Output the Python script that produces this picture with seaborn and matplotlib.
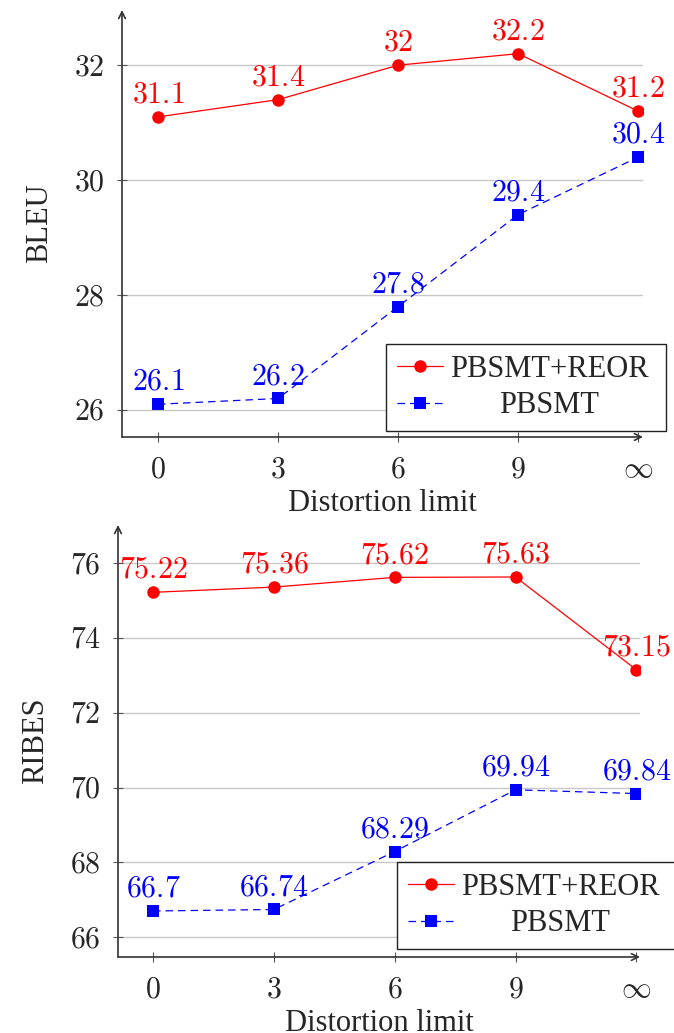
import matplotlib
matplotlib.use("Agg")
import matplotlib.pyplot as plt
import seaborn as sns
import pandas as pd

# ---- data ----
limits = ["0", "3", "6", "9", r"\infty"]
bleu_reor = [31.1, 31.4, 32.0, 32.2, 31.2]
bleu_base = [26.1, 26.2, 27.8, 29.4, 30.4]
ribes_reor = [75.22, 75.36, 75.62, 75.63, 73.15]
ribes_base = [66.7, 66.74, 68.29, 69.94, 69.84]
bleu_labels_reor = ["31.1", "31.4", "32", "32.2", "31.2"]
bleu_labels_base = ["26.1", "26.2", "27.8", "29.4", "30.4"]
ribes_labels_reor = ["75.22", "75.36", "75.62", "75.63", "73.15"]
ribes_labels_base = ["66.7", "66.74", "68.29", "69.94", "69.84"]
series_names = ["PBSMT+REOR", "PBSMT"]
bleu_ticks = [26, 28, 30, 32]
ribes_ticks = [66, 68, 70, 72, 74, 76]

sns.set_theme(style="white")
plt.rcParams['font.family'] = ['Liberation Serif', 'DejaVu Serif']
plt.rcParams['mathtext.fontset'] = 'cm'

W, H = 674, 1033
fig = plt.figure(figsize=(W / 100, H / 100), dpi=100)
FS = 22
NFS = 21.5


def px_axes(l, t, r, b):
    return fig.add_axes([l / W, 1 - b / H, (r - l) / W, (b - t) / H])


def panel(ax, reor, base, lab_r, lab_b, ticks, ylim, xlim, ylabel, legend_box):
    pos = list(range(len(limits)))
    df = pd.DataFrame({"pos": pos, "reor": reor, "base": base})
    sns.lineplot(data=df, x="pos", y="reor", ax=ax, color="#ff0000", marker="o",
                 markersize=9, markeredgewidth=0, linewidth=0.9, label=series_names[0])
    sns.lineplot(data=df, x="pos", y="base", ax=ax, color="#0000ff", marker="s",
                 markersize=8.5, markeredgewidth=0, linewidth=0.9, linestyle=(0, (6, 4)),
                 label=series_names[1])
    for p, v, t in zip(pos, reor, lab_r):
        ax.annotate("$" + t + "$", (p, v), xytext=(0, 6), textcoords="offset points",
                    ha="center", va="bottom", color="#ff0000", fontsize=NFS)
    for p, v, t in zip(pos, base, lab_b):
        ax.annotate("$" + t + "$", (p, v), xytext=(0, 6), textcoords="offset points",
                    ha="center", va="bottom", color="#0000ff", fontsize=NFS)
    ax.set_xlim(*xlim)
    ax.set_ylim(*ylim)
    ax.set_xticks(pos)
    ax.set_xticklabels(["$" + s + "$" for s in limits], fontsize=NFS)
    ax.set_yticks(ticks)
    ax.set_yticklabels(["$" + str(t) + "$" for t in ticks], fontsize=NFS)
    ax.set_xlabel("Distortion limit", fontsize=FS, labelpad=4)
    ax.set_ylabel(ylabel, fontsize=FS, labelpad=14)
    for s in ax.spines.values():
        s.set_visible(False)
    ax.set_facecolor("none")
    ax.grid(axis="y", color="#c8c8c8", linewidth=1.0)
    ax.grid(axis="x", visible=False)
    ax.set_axisbelow(True)
    ax.tick_params(axis="x", direction="inout", length=7, width=0.8, color="#555555",
                   pad=11, bottom=True)
    ax.tick_params(axis="y", direction="inout", length=7, width=0.8, color="#555555",
                   pad=9, left=True)
    ax.annotate("", xy=(1, 0), xytext=(0, 0), xycoords="axes fraction",
                arrowprops=dict(arrowstyle="->", color="#333333", lw=1.2, shrinkA=0, shrinkB=0))
    ax.annotate("", xy=(0, 1), xytext=(0, 0), xycoords="axes fraction",
                arrowprops=dict(arrowstyle="->", color="#333333", lw=1.2, shrinkA=0, shrinkB=0))
    l, t, r, b = legend_box
    leg = ax.legend(loc="upper left",
                    bbox_to_anchor=(l / W, 1 - b / H, (r - l) / W, (b - t) / H),
                    bbox_transform=fig.transFigure, mode="expand",
                    fontsize=FS, frameon=True, fancybox=False, edgecolor="#222222",
                    handlelength=1.5, handletextpad=0.25, borderpad=0.35,
                    labelspacing=0.25, borderaxespad=0)
    leg.get_frame().set_linewidth(1.0)
    leg.get_frame().set_alpha(1)
    return leg


ax1 = px_axes(122, 10, 643, 437)
leg1 = panel(ax1, bleu_reor, bleu_base, bleu_labels_reor, bleu_labels_base, bleu_ticks,
             (25.53, 32.96), (-0.3, 4.04), "BLEU", (386, 344, 666, 429))
ax2 = px_axes(118, 525, 640, 957)
leg2 = panel(ax2, ribes_reor, ribes_base, ribes_labels_reor, ribes_labels_base, ribes_ticks,
             (65.47, 77.02), (-0.29, 4.03), "RIBES", (397, 862, 680, 948))

# center shorter legend labels
fig.canvas.draw()
r = fig.canvas.get_renderer()
for leg in (leg1, leg2):
    texts = leg.get_texts()
    widths = [t.get_window_extent(r).width for t in texts]
    mw = max(widths)
    for t, w in zip(texts, widths):
        t.set_position(((mw - w) / 2, 0))

fig.savefig("out.png", dpi=100)
